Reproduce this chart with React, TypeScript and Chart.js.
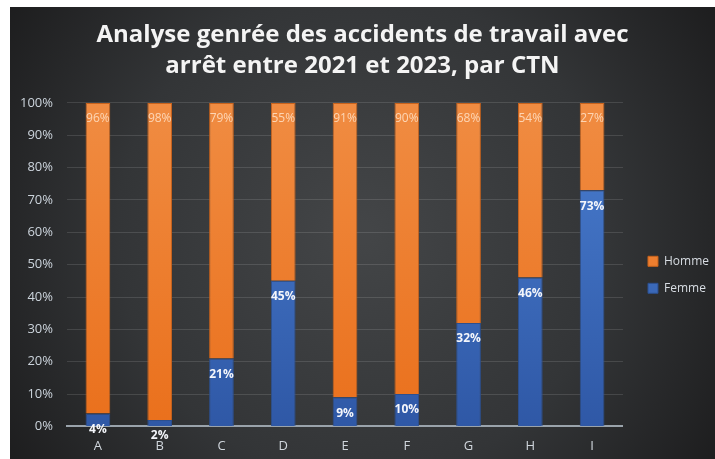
import React, { useEffect, useRef } from "react";
import { Chart, registerables } from "chart.js";

Chart.register(...registerables);

const categories = ["A", "B", "C", "D", "E", "F", "G", "H", "I"];
const femme = [4, 2, 21, 45, 9, 10, 32, 46, 73];
const homme = [96, 98, 79, 55, 91, 90, 68, 54, 27];
const titleLines = ["Analyse genrée des accidents de travail avec", "arrêt entre 2021 et 2023, par CTN"];

const FONT = "'Open Sans', 'Noto Sans', sans-serif";

const bgPlugin = {
  id: "bgPlugin",
  beforeDraw(chart: any) {
    const { ctx, width, height } = chart;
    ctx.save();
    const g = ctx.createRadialGradient(width * 0.5, height * 0.5, 10, width * 0.5, height * 0.5, width * 0.62);
    g.addColorStop(0, "#434547");
    g.addColorStop(0.55, "#333537");
    g.addColorStop(1, "#1b1b1c");
    ctx.fillStyle = g;
    ctx.fillRect(0, 0, width, height);
    ctx.restore();
  },
};

const labelPlugin = {
  id: "labelPlugin",
  afterDatasetsDraw(chart: any) {
    const { ctx } = chart;
    ctx.save();
    ctx.textAlign = "center";
    ctx.textBaseline = "middle";
    chart.data.datasets.forEach((ds: any, di: number) => {
      const meta = chart.getDatasetMeta(di);
      meta.data.forEach((bar: any, i: number) => {
        const v = ds.data[i];
        if (di === 0) {
          ctx.fillStyle = "#f4f6fb";
          ctx.font = `bold 12px ${FONT}`;
        } else {
          ctx.fillStyle = "rgba(255,226,200,0.85)";
          ctx.font = `12px ${FONT}`;
        }
        ctx.fillText(v + "%", bar.x, bar.y + 16);
      });
    });
    ctx.restore();
  },
};

function grad(chart: any, top: string, bottom: string) {
  const area = chart.chartArea;
  if (!area) return top;
  const g = chart.ctx.createLinearGradient(0, area.top, 0, area.bottom);
  g.addColorStop(0, top);
  g.addColorStop(1, bottom);
  return g;
}

export default function App() {
  const ref = useRef<HTMLCanvasElement>(null);
  useEffect(() => {
    if (!ref.current) return;
    const chart = new Chart(ref.current, {
      type: "bar",
      data: {
        labels: categories,
        datasets: [
          {
            label: "Femme",
            data: femme,
            backgroundColor: (c: any) => grad(c.chart, "#4a7ed0", "#2f58a6"),
            borderColor: "#2c4f8e",
            borderWidth: 1,
            categoryPercentage: 1,
            barPercentage: 0.4,
          },
          {
            label: "Homme",
            data: homme,
            backgroundColor: (c: any) => grad(c.chart, "#f08c42", "#ea701c"),
            borderColor: "#c9631c",
            borderWidth: 1,
            categoryPercentage: 1,
            barPercentage: 0.4,
          },
        ],
      },
      options: {
        animation: false,
        responsive: true,
        maintainAspectRatio: false,
        layout: { padding: { left: -4, right: -4, top: 3, bottom: -7 } },
        plugins: {
          title: {
            display: true,
            text: titleLines,
            color: "#f4f4f4",
            font: { family: FONT, size: 24, weight: "bold", lineHeight: 1.27 },
            padding: { top: 10, bottom: 22 },
          },
          legend: {
            position: "right",
            reverse: true,
            title: { display: true, text: "", padding: { top: 0, bottom: 58 }, font: { size: 13 } },
            labels: {
              color: "#d8dde3",
              font: { family: FONT, size: 12 },
              boxWidth: 10,
              boxHeight: 10,
              padding: 15,
            },
          },
          tooltip: { enabled: false },
        },
        scales: {
          x: {
            stacked: true,
            grid: { display: false, drawTicks: false },
            border: { display: true, color: "#9aa3ab", width: 2 },
            ticks: { color: "#d0d6dc", font: { family: FONT, size: 13 }, padding: 12 },
          },
          y: {
            stacked: true,
            min: 0,
            max: 100,
            grid: { color: "rgba(255,255,255,0.12)", drawTicks: false },
            border: { display: false },
            ticks: {
              stepSize: 10,
              color: "#ccd4dc",
              font: { family: FONT, size: 13 },
              padding: 14,
              callback: (v: any) => v + "%",
            },
          },
          gap: {
            type: "linear",
            position: "right",
            display: true,
            grid: { display: false, drawTicks: false },
            border: { display: false },
            ticks: { display: false },
            afterFit: (s: any) => {
              s.width = 10;
            },
          },
        },
      },
      plugins: [bgPlugin, labelPlugin],
    });
    return () => chart.destroy();
  }, []);
  return (
    <div style={{ position: "absolute", left: 10, top: 7, width: 705, height: 452 }}>
      <canvas ref={ref} />
    </div>
  );
}
